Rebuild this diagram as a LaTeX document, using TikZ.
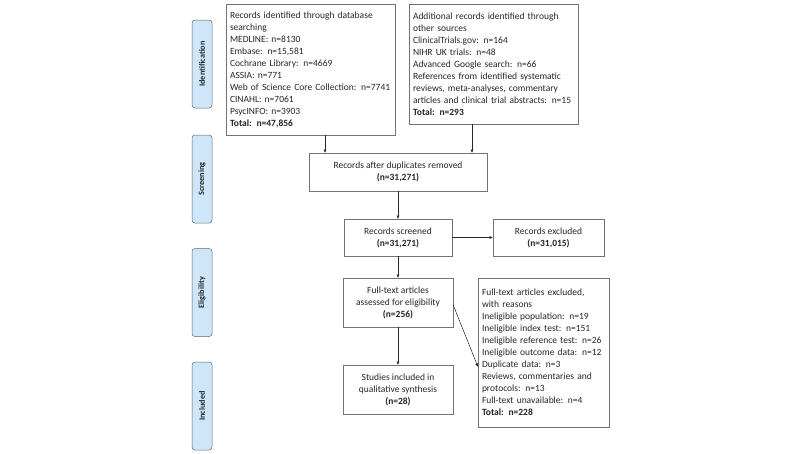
\documentclass[tikz,border=0pt]{standalone}
\usepackage{fontspec}
\setmainfont{Carlito}
\usepackage{tikz}
\usetikzlibrary{arrows.meta}

\definecolor{tabblue}{RGB}{205,230,249}

\begin{document}
\begin{tikzpicture}[x=1pt, y=-1pt,
    %Option for small arrows
    >={Latex[length=3.5pt,width=3pt]}, %
    inner sep=0pt, outer sep=0pt,%
    box/.style={draw=black!55, fill=white, line width=0.6pt, font=\fontsize{9.5}{12}\selectfont, text=black!85},
    box_left/.style={box, align=left, inner xsep=4pt},
    box_mid/.style={box, align=center},
    tab/.style={draw=black!60, fill=tabblue, rounded corners=3pt, line width=0.5pt,
        minimum width=20pt, minimum height=88pt},
    tab_text/.style={rotate=90, font=\fontsize{8.2}{10}\bfseries\selectfont, text=black!85},
    arr/.style={->, line width=0.5pt, black!85},
]
    % Frame
    \useasboundingbox (0,0) rectangle (800,453);

    % Stage tabs
    \node[tab] (tabid)  at (202,64)  {};
    \node[tab] (tabscr) at (202,179) {};
    \node[tab] (tabel)  at (202,292.5) {};
    \node[tab] (tabinc) at (202,406) {};
    \node[tab_text] at (tabid)  {Identification};
    \node[tab_text] at (tabscr) {Screening};
    \node[tab_text] at (tabel)  {Eligibility};
    \node[tab_text] at (tabinc) {Included};

    % Identification
    \node[box_left, minimum width=169pt, minimum height=131pt, text width=161pt] (dbrec) at (310.5,69.5)
        {Records identified through database\\ searching\\
         MEDLINE: n=8130\\
         Embase: n=15,581\\
         Cochrane Library: n=4669\\
         ASSIA: n=771\\
         Web of Science Core Collection: n=7741\\
         CINAHL: n=7061\\
         PsycINFO: n=3903\\
         \textbf{Total: n=47,856}};
    \node[box_left, minimum width=169pt, minimum height=120pt, text width=161pt] (otherrec) at (493.5,64)
        {Additional records identified through\\ other sources\\
         ClinicalTrials.gov: n=164\\
         NIHR UK trials: n=48\\
         Advanced Google search: n=66\\
         References from identified systematic\\ reviews, meta-analyses, commentary\\ articles and clinical trial abstracts: n=15\\
         \textbf{Total: n=293}};

    % Screening
    \node[box_mid, minimum width=178pt, minimum height=38pt] (dedup) at (398,172)
        {Records after duplicates removed\\ \textbf{(n=31,271)}};
    \node[box_mid, minimum width=108pt, minimum height=37pt] (screened) at (398,237.5)
        {Records screened\\ \textbf{(n=31,271)}};
    \node[box_mid, minimum width=111pt, minimum height=37pt] (excl) at (548.5,237.5)
        {Records excluded\\ \textbf{(n=31,015)}};

    % Eligibility
    \node[box_mid, minimum width=110pt, minimum height=49pt] (fulltext) at (398,302.5)
        {Full-text articles\\ assessed for eligibility\\ \textbf{(n=256)}};
    \node[box_left, minimum width=131pt, minimum height=149pt, text width=123pt] (ftexcl) at (543.5,352.5)
        {Full-text articles excluded,\\ with reasons\\
         Ineligible population: n=19\\
         Ineligible index test: n=151\\
         Ineligible reference test: n=26\\
         Ineligible outcome data: n=12\\
         Duplicate data: n=3\\
         Reviews, commentaries and\\ protocols: n=13\\
         Full-text unavailable: n=4\\
         \textbf{Total: n=228}};

    % Included
    \node[box_mid, minimum width=110pt, minimum height=49pt] (included) at (398,389.5)
        {Studies included in\\ qualitative synthesis\\ \textbf{(n=28)}};

    % Connectors
    \draw[arr] ([xshift=16pt]dedup.north west |- dbrec.south) -- ([xshift=16pt]dedup.north west);
    \draw[arr] ([xshift=-15pt]dedup.north east |- otherrec.south) -- ([xshift=-15pt]dedup.north east);
    \draw[arr] (dedup) -- (screened);
    \draw[arr] (screened) -- (excl);
    \draw[arr] (screened) -- (fulltext);
    \draw[arr] (fulltext) -- (included);
    \draw[arr] ([yshift=-2pt]fulltext.east) -- ([yshift=-14.5pt]ftexcl.west);
\end{tikzpicture}
\end{document}
